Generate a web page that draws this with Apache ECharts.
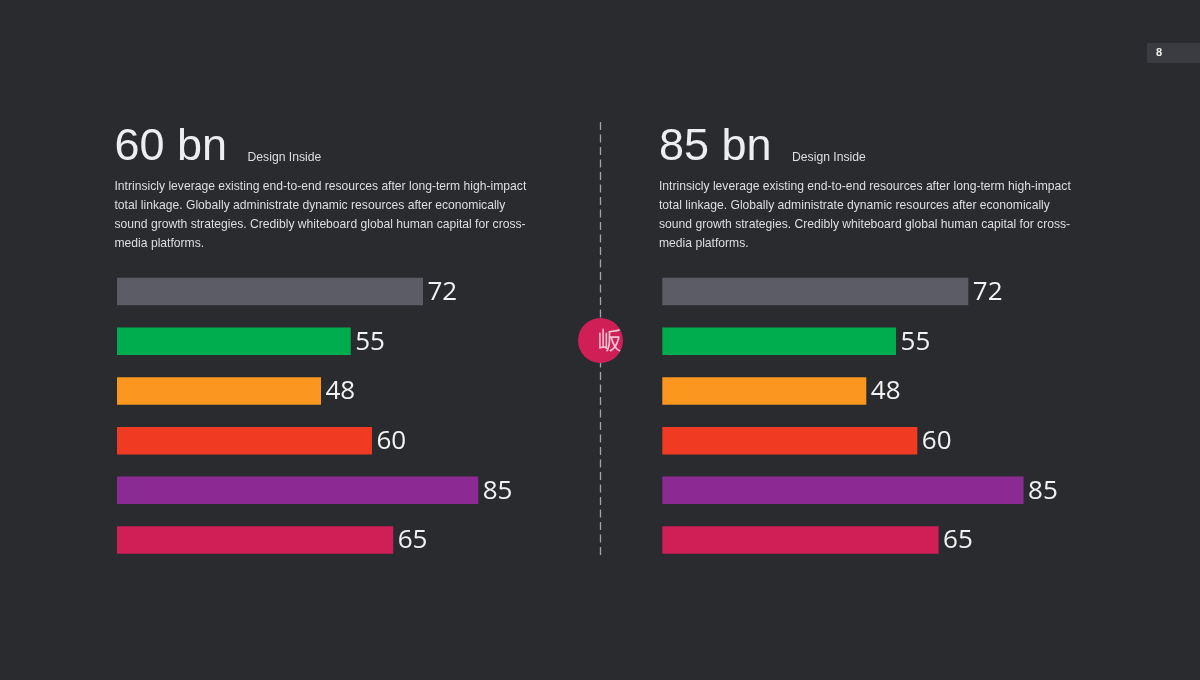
<!DOCTYPE html>
<html><head><meta charset="utf-8">
<style>html,body{margin:0;padding:0;background:#2a2b2f}#c{width:1200px;height:680px}</style>
<script src="https://cdn.jsdelivr.net/npm/echarts@6/dist/echarts.min.js"></script>
</head><body><div id="c"></div>
<script>
const categories = ['A','B','C','D','E','F'];
const leftValues = [72,55,48,60,85,65];
const rightValues = [72,55,48,60,85,65];
const barColors = ['#5b5c66','#00ad4e','#fb961f','#f03a22','#8a2a92','#d01f57'];
const leftTitle = '60 bn';
const rightTitle = '85 bn';
const subtitle = 'Design Inside';
const bodyLines = [
 'Intrinsicly leverage existing end-to-end resources after long-term high-impact',
 'total linkage. Globally administrate dynamic resources after economically',
 'sound growth strategies. Credibly whiteboard global human capital for cross-',
 'media platforms.'];
const pageNumber = '8';
const badgeText = '岅';
const sans = 'Liberation Sans';
function t(x,y,text,size,fill,fam,weight){
  return {type:'text',left:x,top:y,z:3,style:{text,fill,fontFamily:fam||sans,fontSize:size,fontWeight:weight||'normal'}};
}
function textBlock(x, title){
  const els = [t(x,125,title,45,'#eeeef0'),t(x+133,151.5,subtitle,12.2,'#dfdfe1')];
  bodyLines.forEach((s,i)=>els.push(t(x,180.5+i*19,s,12.13,'#dfdfe1')));
  return els;
}
const grids = [{left:117,top:266.7,width:425,height:298.2},{left:662.3,top:266.7,width:425,height:298.2}];
function series(vals,i){
  return {type:'bar',xAxisIndex:i,yAxisIndex:i,barWidth:27.5,silent:true,
    data:vals.map((v,k)=>({value:v,itemStyle:{color:barColors[k]}})),
    label:{show:true,position:'right',distance:4.5,offset:[0,1],color:'#f2f2f2',fontFamily:'Open Sans',fontSize:26}};
}
const chart = echarts.init(document.getElementById('c'),null,{renderer:'canvas'});
chart.setOption({
  backgroundColor:'#2a2b2f',animation:false,
  grid:grids,
  xAxis:[0,1].map(i=>({type:'value',gridIndex:i,min:0,max:100,show:false})),
  yAxis:[0,1].map(i=>({type:'category',gridIndex:i,inverse:true,data:categories,show:false})),
  series:[series(leftValues,0),series(rightValues,1)],
  graphic:[
    {type:'line',shape:{x1:600.5,y1:122,x2:600.5,y2:558},style:{stroke:'#a3a4a7',lineWidth:1.3,lineDash:[8,4.5]},z:1},
    {type:'circle',shape:{cx:600.5,cy:340.5,r:22.5},style:{fill:'#d01f57'},z:2},
    t(597.5,328,badgeText,24,'#f3c5d4','Noto Sans CJK SC'),
    {type:'rect',shape:{x:1147,y:43,width:53,height:20},style:{fill:'#3b3c41'}},
    t(1156,47.5,pageNumber,11,'#f0f0f0',sans,'bold'),
    ...textBlock(114.5,leftTitle),
    ...textBlock(659,rightTitle)
  ]
});
</script></body></html>
